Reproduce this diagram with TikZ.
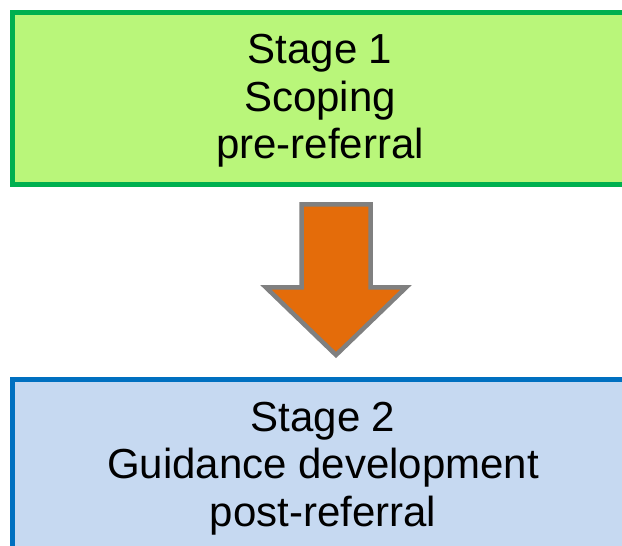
\documentclass[tikz,border=0pt]{standalone}
\usepackage{fontspec}
\setmainfont{Liberation Sans}
\definecolor{boxgreen}{RGB}{185,246,122}
\definecolor{edgegreen}{RGB}{0,176,80}
\definecolor{boxblue}{RGB}{198,217,241}
\definecolor{edgeblue}{RGB}{0,112,192}
\definecolor{arroworange}{RGB}{228,108,10}
\definecolor{arrowgray}{RGB}{128,128,128}
\begin{document}
\begin{tikzpicture}[x=1pt,y=1pt,
  stagebox/.style={rectangle,inner sep=0pt,line width=5pt},
  stagetext/.style={align=center,font=\fontsize{42}{47.5}\selectfont,inner sep=0pt}]
\useasboundingbox (0,0) rectangle (622,546);
\clip (0,0) rectangle (622,546);
% Stage 1 box
\node[stagebox,fill=boxgreen,draw=edgegreen,minimum width=619pt,minimum height=172pt] (box1) at (322,447.5) {};
\node[stagetext] (t1) at (320,445) {Stage 1\\Scoping\\pre-referral};
% Stage 2 box
\node[stagebox,fill=boxblue,draw=edgeblue,minimum width=619pt,minimum height=180pt] (box2) at (322,76.5) {};
\node[stagetext] (t2) at (323,77.5) {Stage 2\\Guidance development\\post-referral};
% block arrow
\draw[line width=4.5pt,draw=arrowgray,fill=arroworange,line join=miter]
  (301.5,341.5) -- (370.5,341.5) -- (370.5,258.5) -- (406,258.5) -- (336,191)
  -- (266,258.5) -- (301.5,258.5) -- cycle;
\end{tikzpicture}
\end{document}
